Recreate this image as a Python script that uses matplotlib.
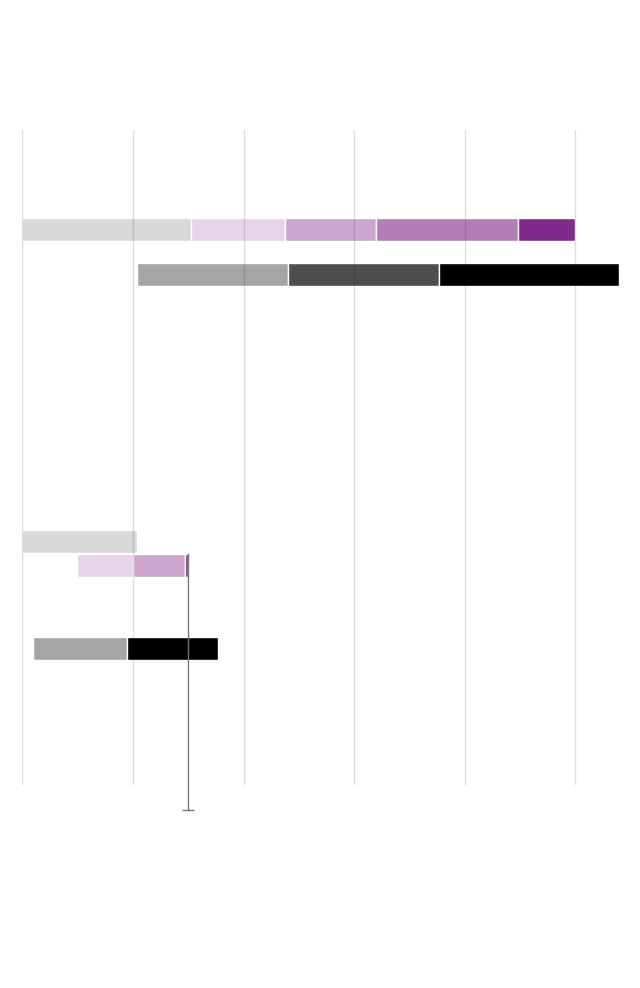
import matplotlib.pyplot as plt
import numpy as np

# segment boundaries for each floating stacked bar (x units, gridline every 10)
top_scale_edges = [0, 15.2, 23.7, 32.0, 44.8, 50.0]
top_range_edges = [10.4, 24.0, 37.7, 53.9]
low_base_edges = [0, 10.4]
low_scale_edges = [4.9, 10.0, 14.7, 15.0]
low_range_edges = [1.0, 9.5, 17.7]
marker_value = 15.0

purples = ['#d8d8d8', '#e6d4e8', '#cda6d0', '#b47db8', '#822a8b']
greys = ['#a5a5a5', '#4e4e4e', '#000000']

# row layout (pixels from top of plot area)
row_pos = [99.5, 144.5, 411.5, 435.5, 518.5]
bar_h = 23

fig = plt.figure(figsize=(6.4, 9.88), dpi=100)
ax = fig.add_axes([22.4 / 640, (988 - 785) / 988, 1 - 22.4 / 640, 655 / 988])


def floating(ax, y, edges, colors):
    edges = np.asarray(edges, dtype=float)
    ax.barh(y, np.diff(edges), left=edges[:-1], height=bar_h,
            color=colors, edgecolor='white', linewidth=1.0, zorder=1)


floating(ax, row_pos[0], top_scale_edges, purples)
floating(ax, row_pos[1], top_range_edges, greys)
floating(ax, row_pos[2], low_base_edges, purples[:1])
floating(ax, row_pos[3], low_scale_edges, purples[1:3] + purples[4:])
floating(ax, row_pos[4], low_range_edges, [greys[0], greys[2]])

# marker line with a cap below the plot area
y_top = row_pos[3] - bar_h / 2
y_end = 680
ax.plot([marker_value, marker_value], [y_top, y_end], color='#777777',
        linewidth=1, clip_on=False, zorder=3)
ax.plot([marker_value], [y_end], marker='_', markersize=8, color='#777777',
        markeredgewidth=1, clip_on=False, zorder=3)

ax.set_xlim(0, (640 - 22.4) / 11.06)
ax.set_ylim(655, 0)
ax.set_xticks(np.arange(0, 51, 10))
ax.set_yticks([])
ax.grid(True, axis='x', color='black', alpha=0.13, linewidth=1)
ax.set_axisbelow(False)
ax.tick_params(axis='x', length=0, labelbottom=False)
for s in ax.spines.values():
    s.set_visible(False)

plt.savefig('out.png', dpi=100, facecolor='white')
